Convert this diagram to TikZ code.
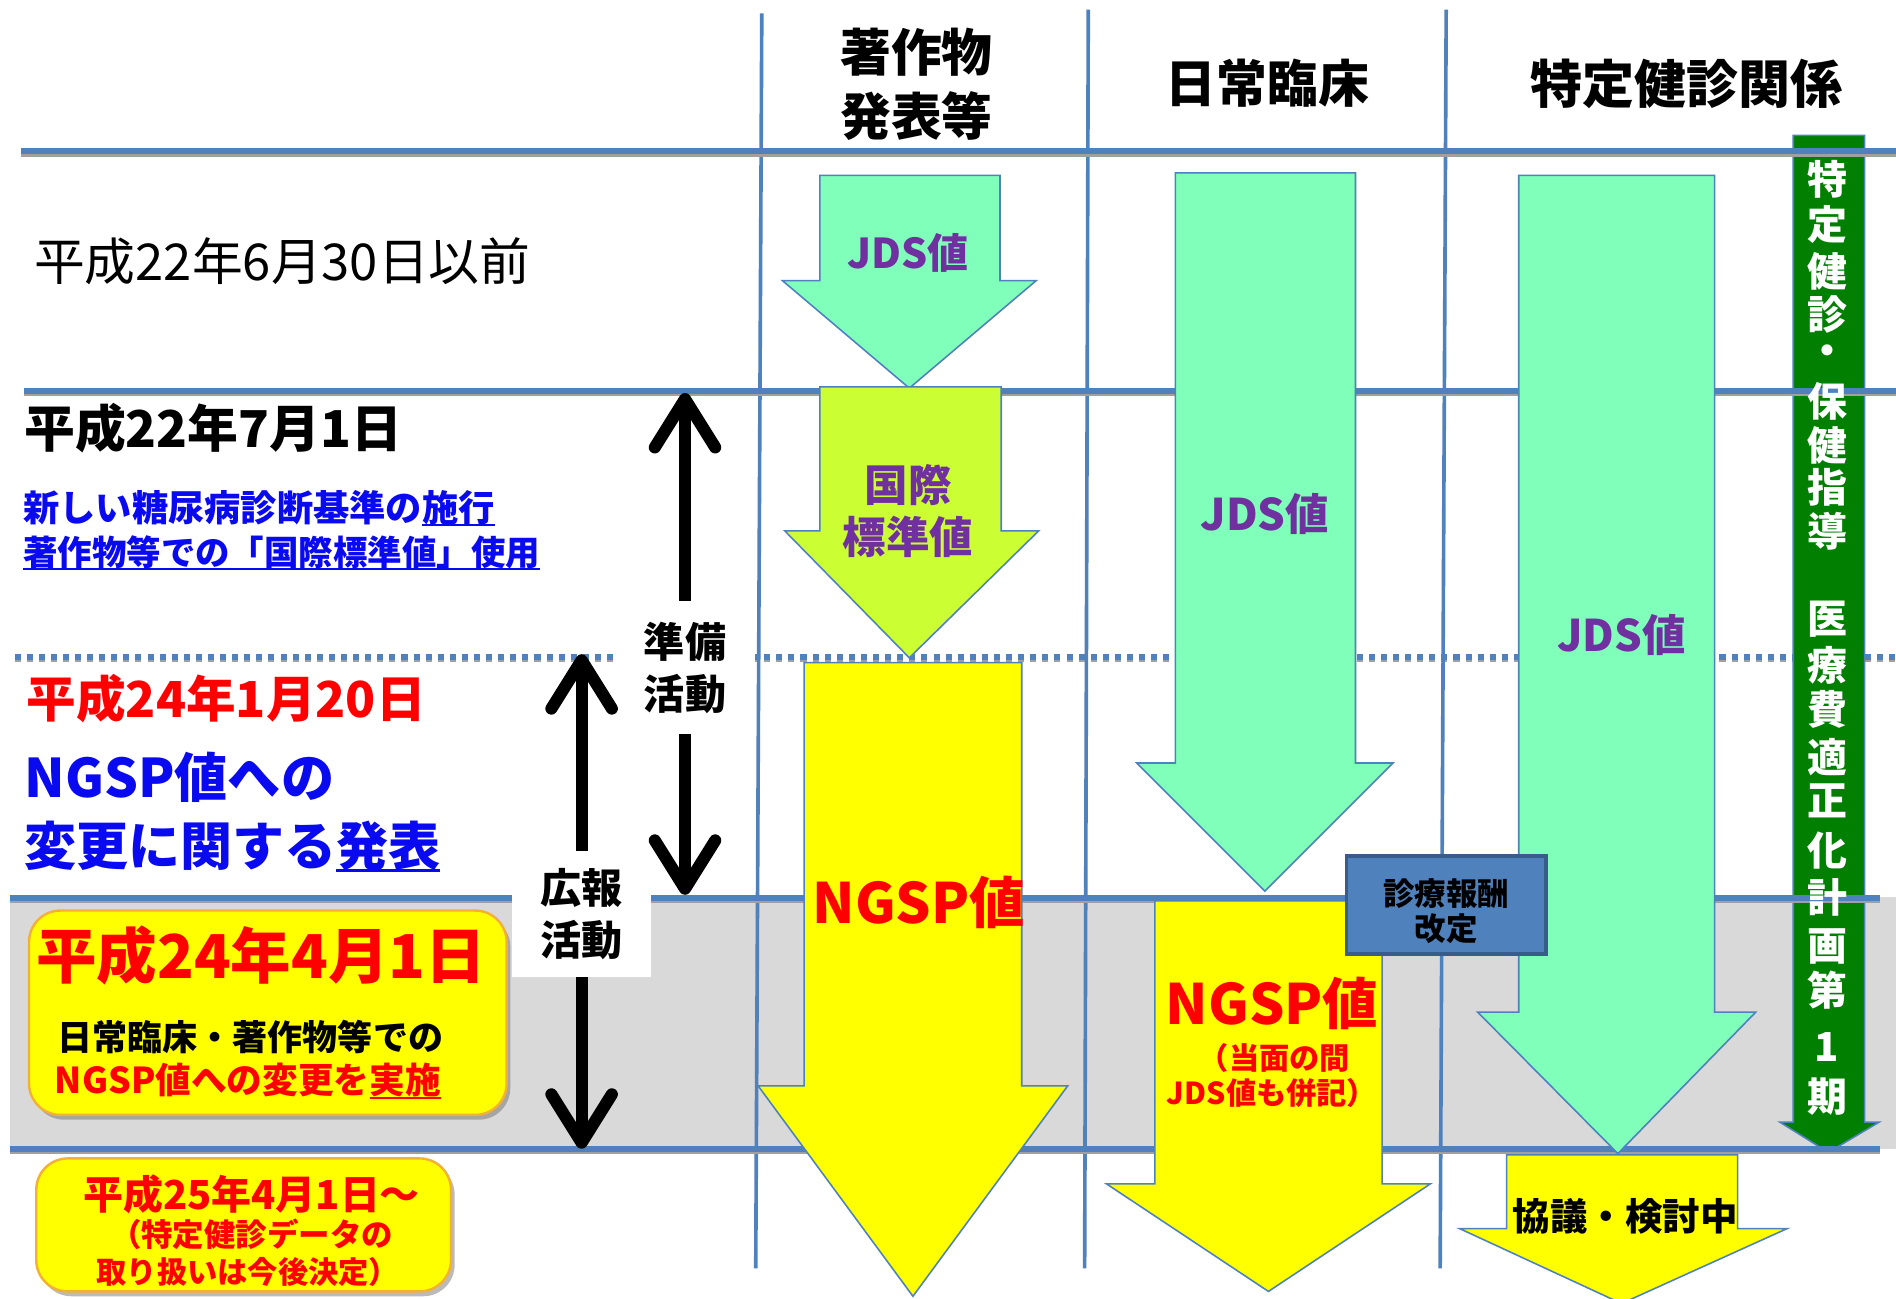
\documentclass[tikz,border=0pt]{standalone}
\usepackage{fontspec}
\setmainfont{Noto Sans CJK JP}
\usetikzlibrary{arrows.meta,shadows}

\definecolor{lineblue}{HTML}{4F81BD}
\definecolor{lineshadow}{HTML}{A0A0A0}
\definecolor{band}{HTML}{D9D9D9}
\definecolor{mint}{HTML}{80FFBA}
\definecolor{ygreen}{HTML}{CCFF33}
\definecolor{yel}{HTML}{FFFF00}
\definecolor{purp}{HTML}{7030A0}
\definecolor{redt}{HTML}{FF0000}
\definecolor{bluet}{HTML}{0A0AF0}
\definecolor{dgreen}{HTML}{007F00}
\definecolor{boxblue}{HTML}{4F81BD}
\definecolor{boxedge}{HTML}{385D8A}
\definecolor{orangeedge}{HTML}{F2B134}

\newcommand\myul[1]{\begingroup\setbox0\hbox{#1}\rlap{\rule[-0.13em]{\wd0}{0.055em}}\box0\endgroup}
% #1 style, #2 xL, #3 xR, #4 ytop, #5 yshoulder, #6 headL, #7 headR, #8 tipx, #9 tipy
\newcommand\bigarrow[9]{%
  \path[#1] (#2,#4) -- (#3,#4) -- (#3,#5) -- (#7,#5) -- (#8,#9) -- (#6,#5) -- (#2,#5) -- cycle;}

\begin{document}
\begin{tikzpicture}[x=1pt,y=-1pt,
  hline/.style={lineblue, line width=5pt},
  hshadow/.style={lineshadow, line width=3pt},
  vline/.style={lineblue, line width=3pt},
  arrowshape/.style={draw=lineblue, line width=1.3pt, line join=miter},
  tb/.style={inner sep=0pt, font=\fontsize{#1}{#1}\selectfont\bfseries},
  tr/.style={inner sep=0pt, font=\fontsize{#1}{#1}\selectfont},
  ybox/.style={draw=orangeedge, line width=2pt, fill=yel, rounded corners=26pt,
    drop shadow={shadow xshift=3pt, shadow yshift=-4pt, opacity=0.45, fill=black!60}},
  labelbox/.style={inner sep=0pt, fill=white, align=center,
    font=\fontsize{34}{43}\selectfont\bfseries},
  blackarr/.style={line width=10pt, -{Straight Barb[length=40pt, width=50pt, round]}},
  gtxt/.style={tb=33, text=white}
]
\useasboundingbox (0,0) rectangle (1568,1074);
\fill[white] (0,0) rectangle (1568,1074);

% gray band
\fill[band] (8,742) rectangle (1568,950);

% dotted line
\draw[lineshadow, line width=3pt, dash pattern=on 5pt off 5pt] (12,546) -- (1568,546);
\draw[lineblue, line width=5pt, dash pattern=on 5pt off 5pt] (12,543) -- (1568,543);

% green vertical bar arrow (behind the lines)
\bigarrow{arrowshape, fill=dgreen}{1483}{1542}{112}{928}{1472}{1554}{1512}{953}

% vertical lines
\draw[vline] (630,11) -- (625,1049);
\draw[vline] (900,8) -- (897,1049);
\draw[vline] (1196,8) -- (1191,1049);

% horizontal lines
\draw[hshadow] (17,128) -- (1568,128);   \draw[hline] (17,125) -- (1568,125);
\draw[hshadow] (20,326) -- (1568,326);   \draw[hline] (20,323) -- (1568,323);
\draw[hshadow] (8,745.5) -- (1555,745.5); \draw[hline] (8,742.5) -- (1555,742.5);
\draw[hshadow] (8,953) -- (1555,953);    \draw[hline] (8,950) -- (1555,950);

% headers
\node[tb=42] (h1a) at (758,43) {著作物};
\node[tb=42] (h1b) at (758,96) {発表等};
\node[tb=42] (h2) at (1048,69) {日常臨床};
\node[tb=43] (h3) at (1395,69) {特定健診関係};

% column arrows
\bigarrow{arrowshape, fill=mint}{678}{827}{145}{232}{647}{857}{752}{321}
\bigarrow{arrowshape, fill=ygreen}{678}{828}{320}{439}{649}{859}{752}{544}
\bigarrow{arrowshape, fill=yel}{665}{845}{548}{898}{627}{883}{755}{1072}
\bigarrow{arrowshape, fill=mint}{972}{1121}{143}{631}{940}{1152}{1046}{737}
\bigarrow{arrowshape, fill=yel}{955}{1143}{745}{979}{915}{1183}{1049}{1068}
\bigarrow{arrowshape, fill=mint}{1256}{1418}{145}{837}{1222}{1452}{1338}{954}
\bigarrow{arrowshape, fill=yel}{1246}{1437}{955}{1016}{1207}{1478}{1341}{1078}

% arrow texts
\node[tb=34, text=purp] (t1) at (751,209) {JDS値};
\node[tb=36, text=purp] (t2a) at (751,401) {国際};
\node[tb=36, text=purp] (t2b) at (751,444) {標準値};
\node[tb=46, text=redt] (t3) at (760,746) {NGSP値};
\node[tb=36, text=purp] (t4) at (1046,425) {JDS値};
\node[tb=46, text=redt] (t5a) at (1052,830) {NGSP値};
\node[tb=25, text=redt] (t5b) at (1054,875) {（当面の間};
\node[tb=25, text=redt] (t5c) at (1052,904) {JDS値も併記）};
\node[tb=36, text=purp] (t6) at (1341,525) {JDS値};
\node[tb=31] (t7) at (1344,1006) {協議・検討中};

% revision box
\node[draw=boxedge, line width=3pt, fill=boxblue, minimum width=165, minimum height=81, inner sep=0pt] (kaitei) at (1196,748.5) {};
\node[tb=26] (kaitei1) at (1196,739) {診療報酬};
\node[tb=26] (kaitei2) at (1196,768) {改定};

% green bar text
\foreach \c/\yy [count=\i] in {特/148,定/186,健/224,診/260,・/294,保/332,健/368,指/403,導/439,医/512,療/550,費/587,適/626,正/662,化/703,計/742,画/783,第/819,1/866,期/907}
  \node[gtxt] (g\i) at (1511,\yy) {\c};

% left texts
\node[tr=42, anchor=west] (d0) at (28,216) {平成22年6月30日以前};
\node[tb=42, anchor=west] (d1) at (20,354) {平成22年7月1日};
\node[tb=30, anchor=west, text=bluet] (d1a) at (19,420) {新しい糖尿病診断基準の\myul{施行}};
\node[tb=28.5, anchor=west, text=bluet] (d1b) at (19,457) {\myul{著作物等での「国際標準値」使用}};
\node[tb=41, anchor=west, text=redt] (d2) at (22,578) {平成24年1月20日};
\node[tb=44, anchor=west, text=bluet] (d2a) at (20,643) {NGSP値への};
\node[tb=43, anchor=west, text=bluet] (d2b) at (20,700) {変更に関する\myul{発表}};

% yellow boxes
\node[ybox, minimum width=395, minimum height=169] (box1) at (221.5,837.5) {};
\node[tb=50, text=redt] (b1a) at (216,790) {平成24年4月1日};
\node[tb=29] (b1b) at (207,858) {日常臨床・著作物等での};
\node[tb=29.5, text=redt] (b1c) at (205,894) {NGSP値への変更を\myul{実施}};

\node[ybox, minimum width=343, minimum height=110] (box2) at (201.5,1013) {};
\node[tb=33, text=redt] (b2a) at (208,988) {平成25年4月1日～};
\node[tb=26, text=redt] (b2b) at (208,1021) {（特定健診データの};
\node[tb=25, text=redt] (b2c) at (205,1052) {取り扱いは今後決定）};

% black double arrows with labels
\node[labelbox, minimum width=115, minimum height=110] (junbi) at (566.5,552) {準備\\活動};
\coordinate (junbiTop) at (566.5,325);
\coordinate (junbiBot) at (566.5,740);
\draw[blackarr] (junbi.north) -- (junbiTop);
\draw[blackarr] (junbi.south) -- (junbiBot);

\node[labelbox, minimum width=115, minimum height=104] (kouhou) at (481,756) {広報\\活動};
\coordinate (kouhouTop) at (481,541);
\coordinate (kouhouBot) at (481,950);
\draw[blackarr] (kouhou.north) -- (kouhouTop);
\draw[blackarr] (kouhou.south) -- (kouhouBot);
\end{tikzpicture}
\end{document}
